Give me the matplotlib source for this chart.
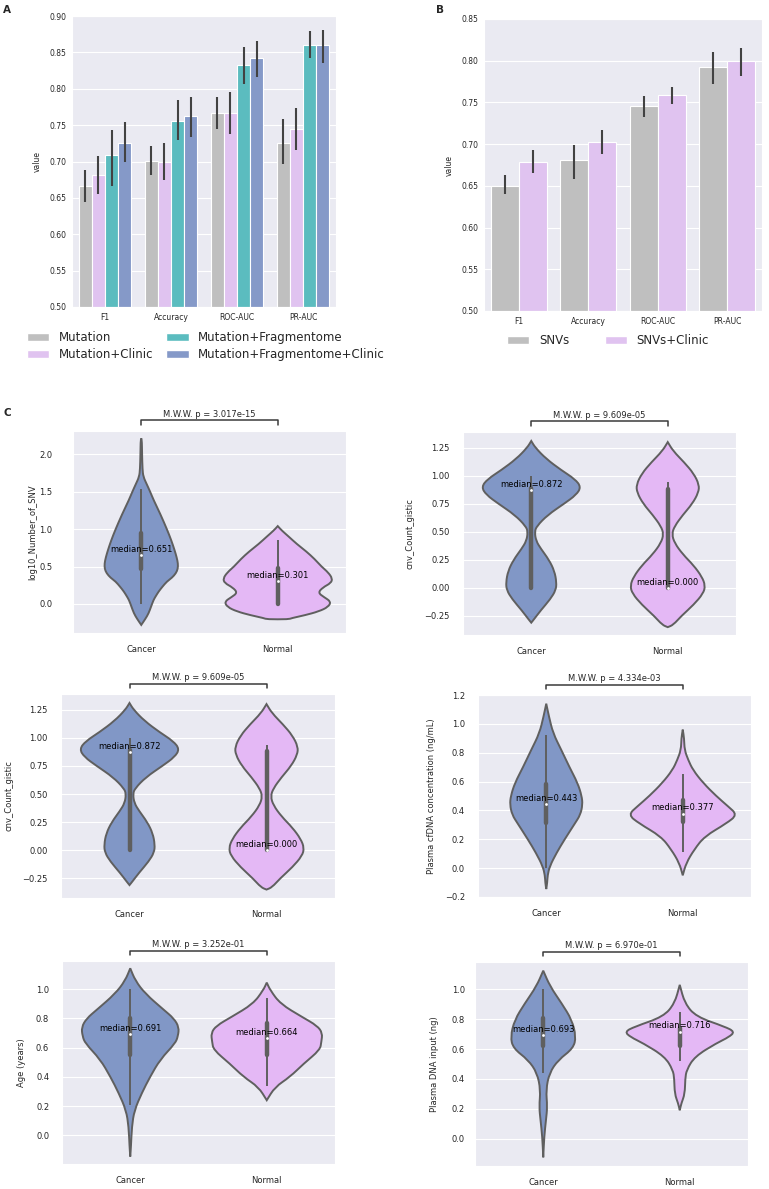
import numpy as np
import matplotlib
matplotlib.use("Agg")
import matplotlib.pyplot as plt
from matplotlib.patches import Patch, PathPatch
from matplotlib.path import Path
import seaborn as sns

sns.set_style("darkgrid")
plt.rcParams['font.family'] = ['DejaVu Sans']

# ---------------- panel A ----------------
metrics = ["F1", "Accuracy", "ROC-AUC", "PR-AUC"]
models_a = ["Mutation", "Mutation+Clinic", "Mutation+Fragmentome", "Mutation+Fragmentome+Clinic"]
mutation = [0.666, 0.701, 0.767, 0.726]
mutation_lo = [0.644, 0.681, 0.744, 0.697]
mutation_hi = [0.689, 0.721, 0.789, 0.758]
mutation_clinic = [0.682, 0.700, 0.767, 0.744]
mutation_clinic_lo = [0.656, 0.674, 0.738, 0.716]
mutation_clinic_hi = [0.708, 0.726, 0.795, 0.773]
mutation_frag = [0.709, 0.755, 0.833, 0.860]
mutation_frag_lo = [0.667, 0.729, 0.807, 0.842]
mutation_frag_hi = [0.743, 0.784, 0.857, 0.879]
mutation_frag_clinic = [0.725, 0.763, 0.842, 0.860]
mutation_frag_clinic_lo = [0.699, 0.733, 0.816, 0.835]
mutation_frag_clinic_hi = [0.754, 0.789, 0.866, 0.881]

# ---------------- panel B ----------------
models_b = ["SNVs", "SNVs+Clinic"]
snvs = [0.650, 0.681, 0.746, 0.792]
snvs_lo = [0.640, 0.658, 0.732, 0.772]
snvs_hi = [0.663, 0.699, 0.758, 0.810]
snvs_clinic = [0.679, 0.703, 0.759, 0.800]
snvs_clinic_lo = [0.665, 0.688, 0.748, 0.782]
snvs_clinic_hi = [0.693, 0.717, 0.769, 0.815]

# ---------------- panel C (violin outlines) ----------------
groups = ["Cancer", "Normal"]

snv_cancer_y = [2.21, 2.0, 1.8, 1.7, 1.6, 1.5, 1.39, 1.2, 0.99, 0.85, 0.72, 0.62, 0.54, 0.47,
                0.41, 0.35, 0.30, 0.23, 0.165, 0.1, 0.053, -0.03, -0.125, -0.2, -0.28]
snv_cancer_w = [0.004, 0.006, 0.009, 0.015, 0.04, 0.065, 0.09, 0.14, 0.19, 0.22, 0.244, 0.26, 0.269,
                0.268, 0.254, 0.225, 0.188, 0.155, 0.127, 0.105, 0.09, 0.073, 0.054, 0.03, 0.0]
snv_normal_y = [1.04, 0.98, 0.9, 0.8, 0.7, 0.6, 0.5, 0.42, 0.34, 0.28, 0.22, 0.15, 0.09, 0.03,
                -0.04, -0.1, -0.15, -0.19, -0.205]
snv_normal_w = [0.0, 0.03, 0.08, 0.14, 0.21, 0.27, 0.32, 0.37, 0.40, 0.39, 0.33, 0.295, 0.34, 0.39,
                0.37, 0.3, 0.2, 0.1, 0.08]
snv_cancer_box = [0.0, 0.47, 0.651, 0.95, 1.53]
snv_normal_box = [0.0, 0.0, 0.301, 0.48, 0.85]

cnv_cancer_y = [1.31, 1.25, 1.15, 1.05, 0.97, 0.90, 0.83, 0.75, 0.65, 0.55, 0.50, 0.42, 0.35,
                0.25, 0.15, 0.05, -0.02, -0.10, -0.20, -0.28, -0.31]
cnv_cancer_w = [0.0, 0.03, 0.11, 0.22, 0.32, 0.365, 0.33, 0.24, 0.12, 0.04, 0.025, 0.035, 0.07,
                0.13, 0.17, 0.185, 0.18, 0.14, 0.07, 0.02, 0.0]
cnv_normal_y = [1.30, 1.22, 1.12, 1.02, 0.92, 0.85, 0.75, 0.65, 0.55, 0.48, 0.40, 0.30, 0.20,
                0.10, 0.02, -0.05, -0.15, -0.25, -0.33, -0.35]
cnv_normal_w = [0.0, 0.04, 0.12, 0.19, 0.23, 0.225, 0.18, 0.11, 0.05, 0.03, 0.05, 0.11, 0.19,
                0.25, 0.275, 0.26, 0.19, 0.10, 0.04, 0.0]
cnv_cancer_box = [0.0, 0.0, 0.872, 0.89, 1.0]
cnv_normal_box = [0.0, 0.0, 0.0, 0.88, 0.94]

cfdna_cancer_y = [1.14, 1.05, 0.935, 0.82, 0.70, 0.59, 0.50, 0.44, 0.37, 0.31, 0.20, 0.105,
                  0.012, -0.05, -0.10, -0.145]
cfdna_cancer_w = [0.0, 0.02, 0.05, 0.11, 0.17, 0.23, 0.26, 0.266, 0.25, 0.21, 0.135, 0.075,
                  0.025, 0.01, 0.007, 0.0]
cfdna_normal_y = [0.96, 0.90, 0.82, 0.75, 0.68, 0.59, 0.50, 0.43, 0.37, 0.31, 0.22, 0.13, 0.035, -0.05]
cfdna_normal_w = [0.0, 0.01, 0.013, 0.04, 0.075, 0.15, 0.245, 0.33, 0.40, 0.32, 0.16, 0.085, 0.025, 0.0]
cfdna_cancer_box = [0.0, 0.31, 0.443, 0.58, 0.92]
cfdna_normal_box = [0.11, 0.32, 0.377, 0.47, 0.65]

age_cancer_y = [1.144, 1.06, 0.97, 0.86, 0.80, 0.74, 0.68, 0.63, 0.52, 0.40, 0.29, 0.17, 0.06, -0.08, -0.146]
age_cancer_w = [0.0, 0.037, 0.11, 0.245, 0.32, 0.357, 0.35, 0.33, 0.22, 0.145, 0.085, 0.03, 0.012, 0.005, 0.0]
age_normal_y = [1.046, 0.995, 0.90, 0.81, 0.75, 0.70, 0.64, 0.585, 0.49, 0.40, 0.33, 0.24]
age_normal_w = [0.0, 0.025, 0.1, 0.26, 0.37, 0.408, 0.40, 0.39, 0.27, 0.17, 0.06, 0.0]
age_cancer_box = [0.21, 0.55, 0.691, 0.80, 1.0]
age_normal_box = [0.34, 0.55, 0.664, 0.77, 0.94]

input_cancer_y = [1.125, 1.02, 0.906, 0.795, 0.683, 0.605, 0.527, 0.44, 0.326, 0.214, 0.125, 0.013, -0.125]
input_cancer_w = [0.0, 0.05, 0.135, 0.21, 0.24, 0.22, 0.11, 0.045, 0.02, 0.03, 0.02, 0.007, 0.0]
input_normal_y = [1.03, 0.906, 0.817, 0.75, 0.716, 0.68, 0.64, 0.55, 0.46, 0.40, 0.30, 0.237, 0.19]
input_normal_w = [0.0, 0.037, 0.12, 0.33, 0.403, 0.36, 0.27, 0.11, 0.05, 0.04, 0.037, 0.012, 0.0]
input_cancer_box = [0.44, 0.62, 0.693, 0.81, 1.0]
input_normal_box = [0.52, 0.62, 0.716, 0.74, 0.85]

p_snv = "3.017e-15"
p_cnv = "9.609e-05"
p_cfdna = "4.334e-03"
p_age = "3.252e-01"
p_input = "6.970e-01"

# colours
c_gray = "#bfbfbf"
c_lav = "#e0c3f0"
c_teal = "#5bbcbf"
c_blue = "#8599c8"
c_cancer = "#8197c6"
c_normal = "#e4b8f5"
c_line = "#5f5f5f"

W, H = 769, 1189
fig = plt.figure(figsize=(W / 100, H / 100), dpi=100)


def px_axes(l, t, r, b):
    return fig.add_axes([l / W, 1 - b / H, (r - l) / W, (b - t) / H])


def bar_panel(ax, series, lows, highs, colors, ylim, yticks, ylab_x):
    n = len(series)
    width = 0.8 / n
    x = np.arange(len(metrics))
    for i, (vals, lo, hi, col) in enumerate(zip(series, lows, highs, colors)):
        xs = x - 0.4 + width * (i + 0.5)
        ax.bar(xs, np.array(vals) - ylim[0], width, bottom=ylim[0], color=col,
               edgecolor="white", linewidth=0.8, zorder=2)
        ax.vlines(xs, lo, hi, color="#424242", lw=1.5, zorder=3)
    ax.set_xlim(-0.5, len(metrics) - 0.5)
    ax.set_ylim(*ylim)
    ax.set_yticks(yticks)
    ax.set_yticklabels(["%.2f" % v for v in yticks])
    ax.set_xticks(x)
    ax.set_xticklabels(metrics)
    ax.tick_params(labelsize=5.5, colors="#262626", pad=4.3, length=0)
    ax.xaxis.grid(False)
    ax.set_ylabel("value", fontsize=5.5, color="#262626")
    ax.yaxis.set_label_coords(ylab_x, 0.5)


# panel A
axA = px_axes(72, 16, 336, 307)
bar_panel(axA, [mutation, mutation_clinic, mutation_frag, mutation_frag_clinic],
          [mutation_lo, mutation_clinic_lo, mutation_frag_lo, mutation_frag_clinic_lo],
          [mutation_hi, mutation_clinic_hi, mutation_frag_hi, mutation_frag_clinic_hi],
          [c_gray, c_lav, c_teal, c_blue], (0.5, 0.9), np.arange(0.50, 0.901, 0.05), -0.114)
handles_a = [Patch(facecolor=c, edgecolor="white") for c in [c_gray, c_lav, c_teal, c_blue]]
fig.legend(handles_a, models_a, loc="upper left", bbox_to_anchor=(27 / W, 1 - 331 / H),
           ncol=2, frameon=False, fontsize=8.5, borderaxespad=0, borderpad=0,
           handlelength=1.9, handleheight=0.6, handletextpad=0.8, columnspacing=1.1,
           labelspacing=0.35)

# panel B
axB = px_axes(484, 19, 762, 311)
bar_panel(axB, [snvs, snvs_clinic], [snvs_lo, snvs_clinic_lo], [snvs_hi, snvs_clinic_hi],
          [c_gray, c_lav], (0.5, 0.85), np.arange(0.50, 0.851, 0.05), -0.108)
handles_b = [Patch(facecolor=c, edgecolor="white") for c in [c_gray, c_lav]]
fig.legend(handles_b, models_b, loc="upper left", bbox_to_anchor=(507 / W, 1 - 334 / H),
           ncol=2, frameon=False, fontsize=8.5, borderaxespad=0, borderpad=0,
           handlelength=1.9, handleheight=0.6, handletextpad=0.8, columnspacing=3.0)


def smooth_outline(center, ys, ws):
    # closed outline, drawn as a quadratic spline through the read points
    pts = [(center + w, y) for y, w in zip(ys, ws)]
    pts += [(center - w, y) for y, w in zip(ys[::-1], ws[::-1])]
    pts = np.array(pts)
    n = len(pts)
    mids = (pts + np.roll(pts, -1, axis=0)) / 2
    verts = [mids[-1]]
    codes = [Path.MOVETO]
    for k in range(n):
        verts += [pts[k], mids[k]]
        codes += [Path.CURVE3, Path.CURVE3]
    verts.append(mids[-1])
    codes.append(Path.CLOSEPOLY)
    return Path(verts, codes)


def violin_panel(rect, outlines, boxes, ylabel, ylim, yticks, ylab_x, ypad, pval):
    l, t, r, b = rect
    ax = px_axes(*rect)
    h_px = b - t
    for i, ((ys, ws), bx, col) in enumerate(zip(outlines, boxes, [c_cancer, c_normal])):
        path = smooth_outline(i, ys, ws)
        ax.add_patch(PathPatch(path, facecolor=col, edgecolor=c_line, lw=1.4, zorder=2))
        ax.plot([i, i], [bx[0], bx[4]], color=c_line, lw=1.4, solid_capstyle="butt", zorder=3)
        ax.plot([i, i], [bx[1], bx[3]], color=c_line, lw=3.2, solid_capstyle="round", zorder=3)
        ax.plot(i, bx[2], "o", color="white", ms=2.0, mew=0, zorder=4)
        ax.annotate("median=%.3f" % bx[2], (i, bx[2]), xytext=(0, 1), textcoords="offset points",
                    ha="center", va="bottom", fontsize=6, color="black", zorder=5)
    ax.set_xlim(-0.5, 1.5)
    ax.set_ylim(*ylim)
    ax.set_yticks(yticks)
    ax.set_xticks([0, 1])
    ax.set_xticklabels(groups)
    ax.tick_params(axis="x", labelsize=6, colors="#262626", pad=8.5, length=0)
    ax.tick_params(axis="y", labelsize=6, colors="#262626", pad=ypad, length=0)
    ax.xaxis.grid(False)
    ax.set_ylabel(ylabel, fontsize=6, color="#262626")
    ax.yaxis.set_label_coords(ylab_x, 0.5)
    # significance bracket
    trans = ax.get_xaxis_transform()
    y_line = 1 + 10.5 / h_px
    y_tick = 1 + 6 / h_px
    ax.plot([0, 0, 1, 1], [y_tick, y_line, y_line, y_tick], color="#3a3a3a", lw=1.1,
            transform=trans, clip_on=False)
    ax.text(0.5, y_line + 1.5 / h_px, "M.W.W. p = " + pval, transform=trans, ha="center",
            va="bottom", fontsize=6, color="#262626")
    return ax


violin_panel((73, 431, 346, 633), [(snv_cancer_y, snv_cancer_w), (snv_normal_y, snv_normal_w)],
             [snv_cancer_box, snv_normal_box], "log10_Number_of_SNV", (-0.388, 2.31),
             [0.0, 0.5, 1.0, 1.5, 2.0], -0.132, 15, p_snv)
violin_panel((463, 432, 736, 635), [(cnv_cancer_y, cnv_cancer_w), (cnv_normal_y, cnv_normal_w)],
             [cnv_cancer_box, cnv_normal_box], "cnv_Count_gistic", (-0.42, 1.39),
             [-0.25, 0.0, 0.25, 0.5, 0.75, 1.0, 1.25], -0.176, 9.4, p_cnv)
violin_panel((61, 694, 335, 898), [(cnv_cancer_y, cnv_cancer_w), (cnv_normal_y, cnv_normal_w)],
             [cnv_cancer_box, cnv_normal_box], "cnv_Count_gistic", (-0.425, 1.39),
             [-0.25, 0.0, 0.25, 0.5, 0.75, 1.0, 1.25], -0.172, 9.4, p_cnv)
violin_panel((478, 695, 751, 897), [(cfdna_cancer_y, cfdna_cancer_w), (cfdna_normal_y, cfdna_normal_w)],
             [cfdna_cancer_box, cfdna_normal_box], "Plasma cfDNA concentration (ng/mL)", (-0.2, 1.2),
             [-0.2, 0.0, 0.2, 0.4, 0.6, 0.8, 1.0, 1.2], -0.154, 9.4, p_cfdna)
violin_panel((62, 961, 335, 1164), [(age_cancer_y, age_cancer_w), (age_normal_y, age_normal_w)],
             [age_cancer_box, age_normal_box], "Age (years)", (-0.197, 1.194),
             [0.0, 0.2, 0.4, 0.6, 0.8, 1.0], -0.132, 9.2, p_age)
violin_panel((475, 962, 748, 1166), [(input_cancer_y, input_cancer_w), (input_normal_y, input_normal_w)],
             [input_cancer_box, input_normal_box], "Plasma DNA input (ng)", (-0.183, 1.183),
             [0.0, 0.2, 0.4, 0.6, 0.8, 1.0], -0.132, 7.2, p_input)

# panel letters
fig.text(3 / W, 1 - 13 / H, "A", fontsize=7.5, fontweight="bold")
fig.text(436 / W, 1 - 13 / H, "B", fontsize=7.5, fontweight="bold")
fig.text(4 / W, 1 - 416 / H, "C", fontsize=7.5, fontweight="bold")

fig.savefig("out.png", dpi=100)
